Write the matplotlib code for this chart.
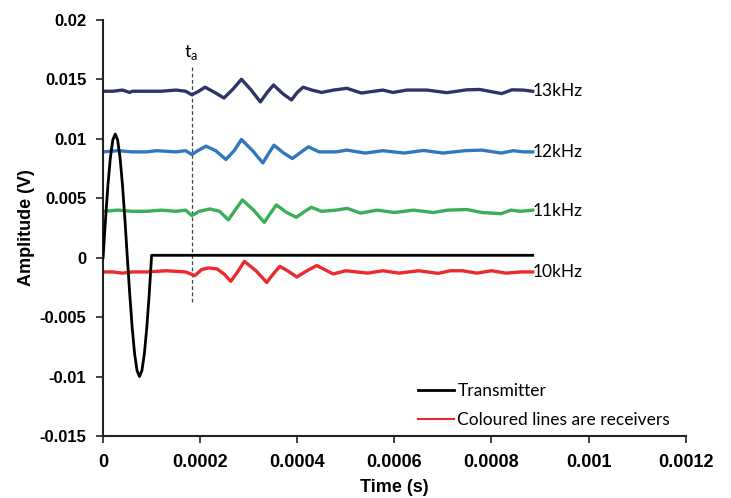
import numpy as np
import matplotlib.pyplot as plt

# transmitter burst (one cycle), time in microseconds, amplitude in V
tx_t = [0, 5, 10, 15, 20, 25, 30, 35, 40, 45, 50, 55, 60, 65, 70, 75,
        80, 85, 90, 95, 100, 885]
tx_v = [0.0, 0.0032, 0.0061, 0.0084, 0.0099, 0.0104, 0.0099, 0.0084, 0.0061,
        0.0032, 0.0, -0.0031, -0.0059, -0.0081, -0.0095, -0.0100, -0.0095,
        -0.0081, -0.0059, -0.0031, 0.0002, 0.0002]

# receivers: baseline (V) plus deviation from it, time in microseconds
rx_labels = ['13kHz', '12kHz', '11kHz', '10kHz']
rx_colors = ['#2f3468', '#2f78c0', '#3aae58', '#ec2a2d']
rx_base = [0.0140, 0.0089, 0.0039, -0.0012]

rx13_t = [0, 20, 40, 55, 60, 80, 120, 150, 170, 183, 197, 210, 230, 249, 268,
          285, 305, 324, 338, 351, 370, 388, 400, 412, 430, 450, 475, 502, 532,
          576, 597, 626, 667, 708, 749, 776, 821, 842, 865, 885]
rx13_v = [0, 0, 0.0001, -0.0001, 0, 0, 0, 0.0001, 0, -0.0003, 0.0, 0.00034,
          -0.0001, -0.00057, 0.0002, 0.00101, 0.0001, -0.0009, -0.0001,
          0.00053, -0.0002, -0.00073, -0.0001, 0.00034, 0.0001, -0.0001,
          0.0001, 0.00025, -0.00015, 0.0001, -0.0001, 0.0001, 0.0001, -0.00012,
          0.00012, 0.00015, -0.0002, 0.00012, 0.0001, 0]

rx12_t = [0, 30, 60, 90, 110, 150, 170, 183, 195, 212, 232, 253, 270, 285, 308,
          329, 340, 352, 372, 390, 405, 423, 445, 480, 502, 540, 576, 620, 660,
          700, 745, 780, 820, 845, 865, 885]
rx12_v = [0, 0.0001, 0, 0, 0.0001, 0, 0.0001, -0.00022, 0.0001, 0.00048,
          0.0001, -0.00064, 0.0001, 0.00104, 0.0001, -0.00093, -0.0002,
          0.00056, -0.0001, -0.00056, -0.0001, 0.00042, 0.0, 0.0, 0.00015,
          -0.0001, 0.0001, -0.0001, 0.00012, -0.0001, 0.0001, 0.00015,
          -0.0001, 0.0001, 0.0, 0.0]

rx11_t = [0, 30, 60, 90, 120, 150, 170, 183, 198, 220, 240, 258, 272, 287, 310,
          332, 344, 357, 378, 398, 412, 429, 450, 480, 503, 530, 565, 600, 640,
          680, 710, 750, 780, 820, 840, 860, 885]
rx11_v = [0, 0.0001, 0, 0, 0.0001, 0, 0.0001, -0.00036, 0.0, 0.0002, 0.0,
          -0.00072, 0.0001, 0.00096, 0.0001, -0.00093, -0.0002, 0.00054,
          -0.0001, -0.0005, -0.0001, 0.00034, 0.0, 0.0001, 0.00025, -0.00015,
          0.0001, -0.0001, 0.0001, -0.0001, 0.0001, 0.00015, -0.0001, -0.0002,
          0.0001, 0.0, 0.0001]

rx10_t = [0, 20, 40, 60, 90, 130, 170, 189, 203, 217, 235, 250, 263, 277, 291,
          315, 337, 350, 364, 380, 399, 420, 440, 474, 500, 545, 576, 610, 650,
          690, 715, 740, 770, 800, 830, 860, 885]
rx10_v = [0, 0, -0.0001, 0, 0, 0.0001, 0, -0.00031, 0.0002, 0.00034, 0.00025,
          -0.0002, -0.00079, 0.0, 0.00089, 0.0001, -0.00088, -0.0002, 0.00047,
          0.0001, -0.00042, 0.0001, 0.00054, -0.00017, 0.0001, -0.0001,
          0.0001, -0.0001, 0.0001, -0.00012, 0.0001, 0.0001, -0.0001, 0.0001,
          -0.0001, 0.0, 0.0]

rx_t = [rx13_t, rx12_t, rx11_t, rx10_t]
rx_v = [rx13_v, rx12_v, rx11_v, rx10_v]

t_arrival = 183e-6

plt.rcParams['font.family'] = ['Liberation Sans', 'DejaVu Sans']
label_font = ['Lato', 'DejaVu Sans']

fig = plt.figure(figsize=(7.31, 4.98), dpi=100)
ax = fig.add_axes([0.141, 0.1245, 0.797, 0.8355])

ax.plot(np.array(tx_t) * 1e-6, tx_v, color='black', lw=2, label='Transmitter',
        zorder=3)

for name, col, base, tt, vv in zip(rx_labels, rx_colors, rx_base, rx_t, rx_v):
    t = np.array(tt) * 1e-6
    ax.plot(t, base + np.array(vv), color=col, lw=2.4, zorder=2)
    ax.text(t[-1], base, name, fontsize=12.5, family=label_font,
            va='center', ha='left')

# arrival marker
ax.plot([t_arrival, t_arrival], [-0.0037, 0.0161], color='#444444', lw=0.9,
        ls=(0, (3, 2)), zorder=1)
ax.text(t_arrival - 2e-6, 0.0165, 't$_\\mathregular{a}$', fontsize=13,
        family=label_font, ha='center', va='bottom')

# legend proxy for the receivers
ax.plot([], [], color='#ec2a2d', lw=1.5, label='Coloured lines are receivers')

ax.set_xlim(0, 0.0012)
ax.set_ylim(-0.015, 0.02)
ax.set_xticks(np.arange(0, 0.00121, 0.0002))
ax.set_xticklabels(['0', '0.0002', '0.0004', '0.0006', '0.0008', '0.001',
                    '0.0012'], fontsize=13, fontweight='bold')
ax.set_yticks(np.arange(-0.015, 0.0201, 0.005))
ax.set_yticklabels(['-0.015', '-0.01', '-0.005', '0', '0.005', '0.01',
                    '0.015', '0.02'], fontsize=12, fontweight='bold')

ax.set_xlabel('Time (s)', fontsize=13, fontweight='bold', labelpad=6)
ax.set_ylabel('Amplitude (V)', fontsize=13, fontweight='bold', labelpad=3)

for s in ['top', 'right']:
    ax.spines[s].set_visible(False)
for s in ['left', 'bottom']:
    ax.spines[s].set_linewidth(1.5)
    ax.spines[s].set_color('#222222')
ax.tick_params(direction='out', length=5, width=1.2, color='#222222')
ax.tick_params(axis='x', pad=8)
ax.tick_params(axis='y', pad=7)

ax.legend(loc='lower right', bbox_to_anchor=(1.0, -0.018), frameon=False,
          prop={'family': label_font, 'size': 12.5}, handlelength=2.1,
          handletextpad=0.17, labelspacing=0.75)

fig.savefig('out.png', dpi=100)
